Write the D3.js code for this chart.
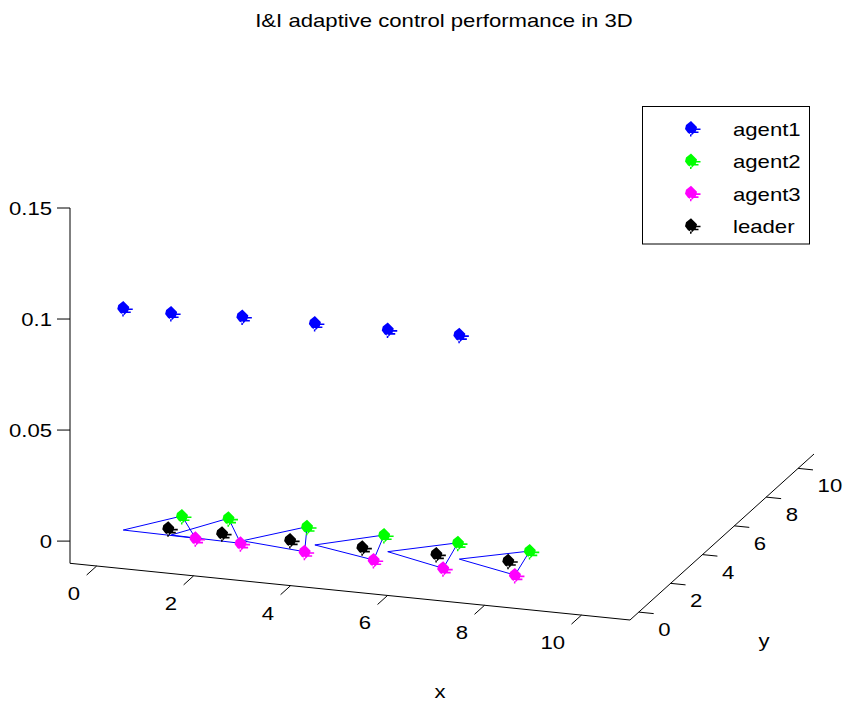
<!DOCTYPE html>
<html>
<head>
<meta charset="utf-8">
<script src="https://cdn.jsdelivr.net/npm/d3@7"></script>
<style>
  body { margin: 0; background: #fff; }
  text { font-family: "Liberation Sans", Arial, sans-serif; fill: #000; }
</style>
</head>
<body>
<div id="wrapper"></div>
<script>
const width = 848
const height = 707

// axis limits and ticks
const xLim = [-0.55, 11]
const yLim = [-0.55, 11]
const zLim = [-0.01, 0.15]
const xTicks = [0, 2, 4, 6, 8, 10]
const yTicks = [0, 2, 4, 6, 8, 10]
const zTicks = [0, 0.05, 0.1, 0.15]
const zTickLabels = ["0", "0.05", "0.1", "0.15"]

// agent positions (6 snapshots)
const agent1X = [0.21, 1.20, 2.64, 4.07, 5.56, 7.04]
const agent1Y = [0.48, 0.47, 0.56, 0.76, 0.80, 0.79]
const agent1Z = [0.100, 0.100, 0.101, 0.100, 0.100, 0.101]
const agent2X = [1.01, 1.92, 3.55, 5.15, 6.68, 8.18]
const agent2Y = [1.73, 1.88, 1.85, 1.82, 1.80, 1.74]
const agent3X = [1.72, 2.66, 4.02, 5.47, 6.93, 8.40]
const agent3Y = [0.42, 0.39, 0.27, 0.19, 0.11, 0.14]
const leaderX = [1.01, 2.11, 3.51, 5.00, 6.51, 7.98]
const leaderY = [0.87, 0.90, 0.91, 0.91, 0.96, 1.00]

const names = ["agent1", "agent2", "agent3", "leader"]
const color = d3.scaleOrdinal(names, ["#0000ff", "#00ff00", "#ff00ff", "#000000"])

// 3D box: corner (xmin,ymin,zmin) on screen and the screen vector of each axis
const corner = [70, 563.3]
const vX = [560, 56.7]
const vY = [184, -166]
const vZ = [0, -355.3]

const sx = d3.scaleLinear().domain(xLim).range([0, 1])
const sy = d3.scaleLinear().domain(yLim).range([0, 1])
const sz = d3.scaleLinear().domain(zLim).range([0, 1])

function project(x, y, z) {
    const a = sx(x), b = sy(y), c = sz(z)
    return [corner[0] + a * vX[0] + b * vY[0] + c * vZ[0],
            corner[1] + a * vX[1] + b * vY[1] + c * vZ[1]]
}
const unit = v => { const l = Math.hypot(v[0], v[1]); return [v[0] / l, v[1] / l] }
const uX = unit(vX), uY = unit(vY)

const svg = d3.select("#wrapper").append("svg")
    .attr("width", width)
    .attr("height", height)
    .style("font-size", "18.6px")

svg.append("rect").attr("width", width).attr("height", height).attr("fill", "#fff")

// stretched text like the source
function label(g, x, y, str, anchor) {
    return g.append("text")
        .attr("transform", `translate(${x},${y}) scale(1.19,1)`)
        .attr("text-anchor", anchor)
        .text(str)
}

const axes = svg.append("g").attr("stroke", "#000").attr("stroke-width", 1).attr("fill", "none")
const line = d3.line()

// axis lines
axes.append("path").attr("d", line([project(xLim[0], yLim[0], zLim[0]), project(xLim[1], yLim[0], zLim[0])]))
axes.append("path").attr("d", line([project(xLim[1], yLim[0], zLim[0]), project(xLim[1], yLim[1], zLim[0])]))
axes.append("path").attr("d", line([project(xLim[0], yLim[0], zLim[0]), project(xLim[0], yLim[0], zLim[1])]))

const labels = svg.append("g")

xTicks.forEach(t => {
    const p = project(t, yLim[0], zLim[0])
    axes.append("path").attr("d", line([p, [p[0] - uY[0] * 13.5, p[1] - uY[1] * 13.5]]))
    label(labels, p[0] - 16.5, p[1] + 34, String(t), "end")
})
yTicks.forEach(t => {
    const p = project(xLim[1], t, zLim[0])
    axes.append("path").attr("d", line([p, [p[0] + uX[0] * 15, p[1] + uX[1] * 15]]))
    label(labels, p[0] + 19.5, p[1] + 24, String(t), "start")
})
zTicks.forEach((t, i) => {
    const p = project(xLim[0], yLim[0], t)
    axes.append("path").attr("d", line([p, [p[0] - 13, p[1]]]))
    label(labels, 52, p[1] + 6.7, zTickLabels[i], "end")
})

label(labels, 440, 698, "x", "middle")
label(labels, 764, 647, "y", "middle")
label(labels, 444, 27.3, "I&I adaptive control performance in 3D", "middle")

// formation triangles at z = 0
const tri = svg.append("g").attr("fill", "none").attr("stroke", "#0000ff").attr("stroke-width", 1)
agent1X.forEach((_, i) => {
    tri.append("path").attr("d", line([
        project(agent1X[i], agent1Y[i], 0),
        project(agent2X[i], agent2Y[i], 0),
        project(agent3X[i], agent3Y[i], 0)
    ]) + "Z")
})

// blobby marker like the source
const markerPath = "M0,-7 L3,-4 L6,-1 L5,3 L1,7 L-3,5 L-6,1 L-5,-3 Z M3,0.5 h6.5 v1.6 h-6.5 Z M2,3.5 h5.5 v1.6 h-5.5 Z M-1,5 v3.5 h1.5 v-3.5 Z"

function drawMarkers(xs, ys, zs, name) {
    svg.append("g").selectAll("path")
        .data(xs.map((x, i) => project(x, ys[i], zs ? zs[i] : 0)))
        .join("path")
        .attr("transform", d => `translate(${d[0]},${d[1]})`)
        .attr("d", markerPath)
        .attr("fill", color(name))
}
drawMarkers(agent1X, agent1Y, agent1Z, "agent1")
drawMarkers(agent2X, agent2Y, null, "agent2")
drawMarkers(agent3X, agent3Y, null, "agent3")
drawMarkers(leaderX, leaderY, null, "leader")

// legend
const legend = svg.append("g")
legend.append("rect")
    .attr("x", 642.5).attr("y", 106.5).attr("width", 167).attr("height", 137.5)
    .attr("fill", "#fff").attr("stroke", "#000")
names.forEach((n, i) => {
    const yb = 136 + i * 32.4
    legend.append("path").attr("transform", `translate(691,${yb - 8})`).attr("d", markerPath).attr("fill", color(n))
    label(legend, 733, yb, n, "start")
})
</script>
</body>
</html>
